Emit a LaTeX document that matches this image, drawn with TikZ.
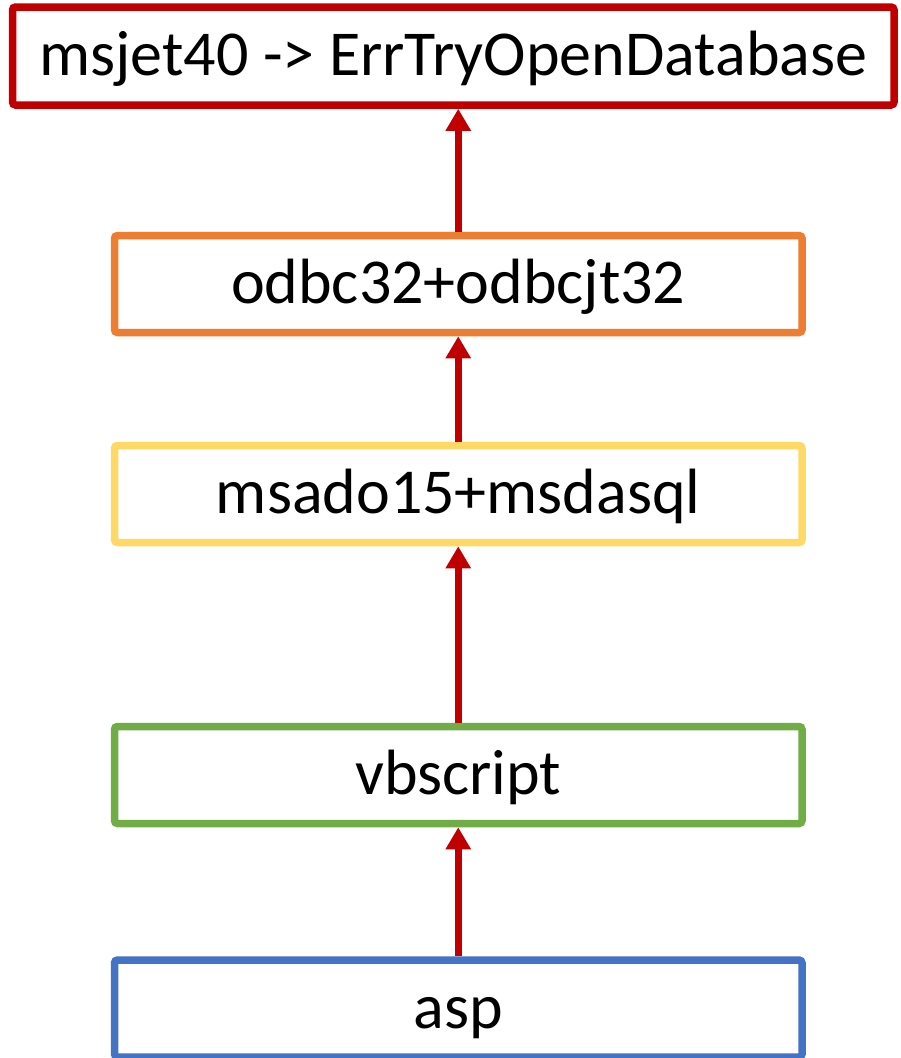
\documentclass[tikz,border=0pt]{standalone}
\usepackage{fontspec}
\setmainfont{Carlito}
\usetikzlibrary{arrows.meta}
\definecolor{jetred}{HTML}{C00000}
\definecolor{odbcorange}{HTML}{ED7D31}
\definecolor{adoyellow}{HTML}{FFD966}
\definecolor{vbsgreen}{HTML}{70AD47}
\definecolor{aspblue}{HTML}{4472C4}
\begin{document}
\begin{tikzpicture}[x=1pt,y=-1pt,
  every node/.style={draw,rounded corners=3pt,line width=7.5pt,fill=white,
    minimum width=687.5pt,minimum height=97pt,text height=39pt,text depth=0pt,
    font=\fontsize{64}{76}\selectfont},
  call/.style={draw=jetred,line width=7pt,-{Triangle[width=24pt,length=22pt]}}]
  \useasboundingbox (0,0) rectangle (900,1058);
  \node[draw=jetred,minimum width=881.5pt,minimum height=98pt] (jet) at (453.25,56) {msjet40 -> ErrTryOpenDatabase};
  \node[draw=odbcorange] (odbc) at (458.25,284) {odbc32+odbcjt32};
  \node[draw=adoyellow] (ado) at (458.25,494) {msado15+msdasql};
  \node[draw=vbsgreen] (vbs) at (458.25,775) {vbscript};
  \node[draw=aspblue] (asp) at (458.25,1008.5) {asp};
  \draw[call] (odbc.north) -- (odbc.north |- jet.south);
  \draw[call] (ado) -- (odbc);
  \draw[call] (vbs) -- (ado);
  \draw[call] (asp) -- (vbs);
\end{tikzpicture}
\end{document}
